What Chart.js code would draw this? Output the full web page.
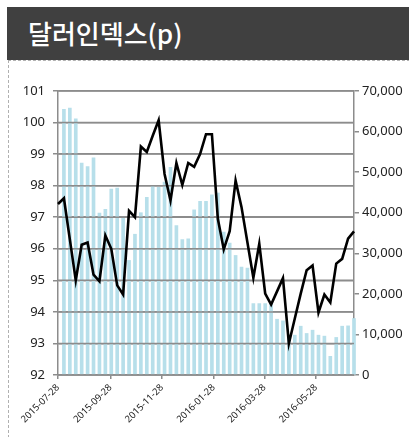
<!DOCTYPE html>
<html>
<head>
<meta charset="utf-8">
<script src="https://cdn.jsdelivr.net/npm/chart.js@4.4.1/dist/chart.umd.min.js"></script>
<style>
  html, body { margin:0; padding:0; background:#fff; }
  #wrap { position:relative; width:409px; height:437px; overflow:hidden; background:#fff; }
  #title { position:absolute; left:7px; top:7px; width:402px; height:53px; background:#404040;
           color:#fff; font-family:"Noto Sans CJK KR","Noto Sans",sans-serif; font-weight:500;
           font-size:26px; line-height:52px; padding-left:21px; box-sizing:border-box; }
  #frame { position:absolute; left:8px; top:60px; width:401px; height:377px;
           border-left:1px dashed #b0b0b0; border-top:1px dashed #b0b0b0; }
  canvas { position:absolute; left:0; top:0; }
</style>
</head>
<body>
<div id="wrap">
  <div id="frame"></div>
  <div id="title">달러인덱스(p)</div>
  <canvas id="c" width="409" height="437"></canvas>
</div>
<script>
const dates = [
  '2015-07-28','2015-08-04','2015-08-11','2015-08-18','2015-08-25','2015-09-01','2015-09-08','2015-09-15',
  '2015-09-22','2015-09-29','2015-10-06','2015-10-13','2015-10-20','2015-10-27','2015-11-03','2015-11-10',
  '2015-11-17','2015-11-24','2015-12-01','2015-12-08','2015-12-15','2015-12-22','2015-12-29','2016-01-05',
  '2016-01-12','2016-01-19','2016-01-26','2016-02-02','2016-02-09','2016-02-16','2016-02-23','2016-03-01',
  '2016-03-08','2016-03-15','2016-03-22','2016-03-29','2016-04-05','2016-04-12','2016-04-19','2016-04-26',
  '2016-05-03','2016-05-10','2016-05-17','2016-05-24','2016-05-31','2016-06-07','2016-06-14','2016-06-21',
  '2016-06-28','2016-07-05','2016-07-12'
];
// Dollar index (left axis, line)
const dollarIndex = [
  97.42, 97.60, 96.30, 95.00, 96.13, 96.20, 95.18, 94.97, 96.42, 96.00,
  94.84, 94.55, 97.20, 97.00, 99.24, 99.07, 99.58, 100.07, 98.37, 97.53,
  98.72, 98.02, 98.72, 98.60, 99.00, 99.63, 99.63, 96.95, 95.98, 96.56,
  98.16, 97.32, 96.20, 95.08, 96.16, 94.58, 94.23, 94.65, 95.07, 93.00,
  93.79, 94.58, 95.32, 95.47, 93.98, 94.55, 94.30, 95.53, 95.68, 96.32,
  96.55
];
// Bars (right axis)
const barValues = [
  null, 65500, 65800, 63150, 52230, 51350, 53500, 39900, 40850, 45800,
  46100, 38900, 28240, 34700, 40000, 43800, 46660, 46250, 47550, 51160,
  36840, 33400, 33570, 40700, 42800, 42800, 44400, 44860, 35200, 32500,
  29470, 26600, 26350, 17600, 17600, 17600, 17400, 13750, 13340, 9000,
  9820, 12030, 10240, 11050, 9820, 9580, 4600, 9260, 12030, 12110,
  13920
];
const tickLabels = ['2015-07-28','2015-09-28','2015-11-28','2016-01-28','2016-03-28','2016-05-28'];
const leftTicks = [92, 93, 94, 95, 96, 97, 98, 99, 100, 101];

const DAY = 86400000;
const t0 = Date.parse(dates[0]);
const dayOf = s => Math.round((Date.parse(s) - t0) / DAY);
const xs = dates.map(dayOf);
const tickDays = tickLabels.map(dayOf);

const GRID = '#8c8c8c';
const FONT = '"Noto Sans", "Noto Sans CJK KR", sans-serif';

const gridOver = {
  id: 'gridOver',
  afterDatasetDraw(chart, args) {
    if (args.index !== 0) return;
    const y = chart.scales.y, a = chart.chartArea, ctx = chart.ctx;
    ctx.save();
    ctx.strokeStyle = GRID;
    ctx.lineWidth = 1.5;
    y.ticks.forEach(t => {
      const p = y.getPixelForValue(t.value);
      ctx.beginPath(); ctx.moveTo(a.left, p); ctx.lineTo(a.right, p); ctx.stroke();
    });
    ctx.restore();
  }
};

new Chart(document.getElementById('c'), {
  data: {
    datasets: [
      {
        type: 'bar', yAxisID: 'y1', order: 2,
        data: xs.map((x, i) => ({ x, y: barValues[i] })),
        backgroundColor: '#b7dfea', borderWidth: 0, barThickness: 3, clip: false
      },
      {
        type: 'line', yAxisID: 'y', order: 1,
        data: xs.map((x, i) => ({ x, y: dollarIndex[i] })),
        borderColor: '#000', borderWidth: 2.6, pointRadius: 0, tension: 0, clip: false
      }
    ]
  },
  options: {
    responsive: false, animation: false,
    layout: { padding: { top: 91, left: 0, right: 0, bottom: 0 } },
    plugins: { legend: { display: false }, tooltip: { enabled: false } },
    scales: {
      x: {
        type: 'linear', min: 0, max: xs[xs.length - 1], offset: false,
        afterBuildTicks: s => { s.ticks = tickDays.map(v => ({ value: v })); },
        afterFit: s => { s.height = 62; s.paddingLeft = 0; s.paddingRight = 0; },
        ticks: {
          callback: v => tickLabels[tickDays.indexOf(v)] || '',
          minRotation: 45, maxRotation: 45, autoSkip: false,
          font: { family: FONT, size: 9.5 }, color: '#222', padding: 3
        },
        grid: { offset: false, drawOnChartArea: false, drawTicks: true, tickLength: 4, color: GRID, lineWidth: 1.5 },
        border: { display: true, color: GRID, width: 1.5 }
      },
      y: {
        position: 'left', min: 92, max: 101,
        afterBuildTicks: s => { s.ticks = leftTicks.map(v => ({ value: v })); },
        afterFit: s => { s.width = 58; },
        ticks: { font: { family: FONT, size: 13 }, color: '#222', padding: 8 },
        grid: { color: GRID, lineWidth: 1.5, drawTicks: true, tickLength: 5 },
        border: { display: true, color: GRID, width: 1.5 }
      },
      y1: {
        position: 'right', min: 0, max: 70000,
        afterFit: s => { s.width = 55; },
        ticks: { stepSize: 10000, callback: v => v.toLocaleString('en-US'),
                 font: { family: FONT, size: 13 }, color: '#222', padding: 3 },
        grid: { drawOnChartArea: false, drawTicks: true, tickLength: 5, color: GRID, lineWidth: 1.5 },
        border: { display: true, color: GRID, width: 1.5 }
      }
    }
  },
  plugins: [gridOver]
});
</script>
</body>
</html>
